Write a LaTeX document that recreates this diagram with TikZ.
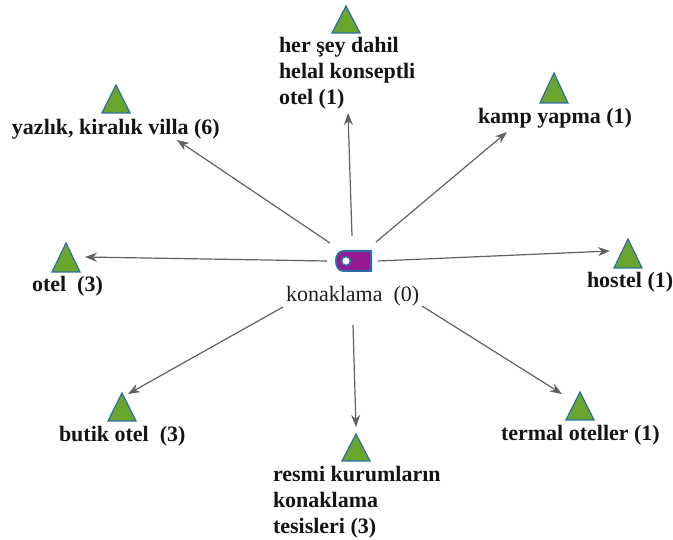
\documentclass[tikz,border=0pt]{standalone}
\usepackage{fontspec}
\setmainfont{Liberation Serif}
\usetikzlibrary{arrows.meta}
\definecolor{leaf}{HTML}{6AA62E}
\definecolor{edgeblue}{HTML}{2E6CA4}
\definecolor{hubfill}{HTML}{951B96}
\definecolor{conn}{HTML}{616161}
\tikzset{
  x=1pt,y=-1pt,
  connector/.style={draw=conn,line width=1.2pt,-{Stealth[length=12pt,width=9pt]}},
  lab/.style={anchor=base west,inner sep=0pt,outer sep=0pt,font=\fontsize{22}{26}\selectfont\bfseries,align=left,text=black!92},
  hublab/.style={anchor=base west,inner sep=0pt,outer sep=0pt,font=\fontsize{22}{26}\selectfont,text=black!88},
  tri/.style={draw=edgeblue,fill=leaf,line width=1.2pt,line join=miter},
  hubshape/.style={draw=edgeblue,fill=hubfill,line width=2pt},
  hole/.style={circle,fill=white,draw=edgeblue,line width=1.5pt,minimum size=9pt,inner sep=0pt}
}
\newcommand{\trimark}[3]{\draw[tri] (#1-14,#3) -- (#1,#2) -- (#1+14,#3) -- cycle;}
\begin{document}
\begin{tikzpicture}
\useasboundingbox (0,0) rectangle (673,540);
% triangles
\trimark{346}{6}{33}
\trimark{116}{85}{113}
\trimark{554}{73}{103}
\trimark{628}{239}{268}
\trimark{66}{243}{272}
\trimark{122}{393}{421}
\trimark{356}{434}{461}
\trimark{580}{392}{420}
% hub
\draw[hubshape] (371,251) -- (344,251) .. controls (339,251) and (336,255) .. (336,261) .. controls (336,267) and (339,271) .. (344,271) -- (371,271) -- cycle;
\node[hole] (hubhole) at (346,261) {};
\node[hublab] (hubtext) at (286,302) {konaklama\ \ (0)};
% labels
\node[lab] (top) at (279,105) {her şey dahil\\helal konseptli\\otel (1)};
\node[lab] (villa) at (12,135) {yazlık, kiralık villa (6)};
\node[lab] (kamp) at (478,124) {kamp yapma (1)};
\node[lab] (hostel) at (587,288) {hostel (1)};
\node[lab] (otel) at (32,292) {otel\ \ (3)};
\node[lab] (butik) at (59,442) {butik otel\ \ (3)};
\node[lab] (resmi) at (273,533) {resmi kurumların\\konaklama\\tesisleri (3)};
\node[lab] (termal) at (501,440) {termal oteller (1)};
% connector ends
\coordinate (s1) at (352,236); \coordinate (e1) at (348,113);
\coordinate (s2) at (330,243); \coordinate (e2) at (177,140);
\coordinate (s3) at (376,242); \coordinate (e3) at (507,132);
\coordinate (s4) at (378,261); \coordinate (e4) at (610,251);
\coordinate (s5) at (327,261); \coordinate (e5) at (85,257);
\coordinate (s6) at (283,307); \coordinate (e6) at (128,394);
\coordinate (s7) at (353,325); \coordinate (e7) at (356,427);
\coordinate (s8) at (422,306); \coordinate (e8) at (562,394);
\foreach \i in {1,...,8} {\draw[connector] (s\i) -- (e\i);}
\end{tikzpicture}
\end{document}
